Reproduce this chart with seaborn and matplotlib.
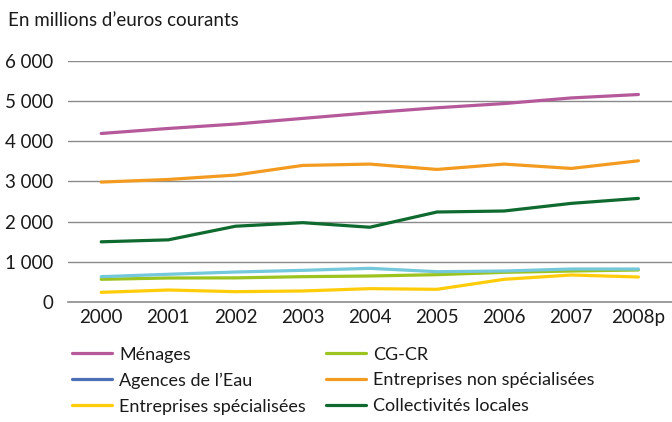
import numpy as np
import pandas as pd
import seaborn as sns
import matplotlib.pyplot as plt
from matplotlib.lines import Line2D
from matplotlib.ticker import FuncFormatter

years = ["2000", "2001", "2002", "2003", "2004", "2005", "2006", "2007", "2008p"]

menages = [4195, 4320, 4430, 4570, 4710, 4835, 4940, 5080, 5165]
cg_cr = [565, 597, 600, 630, 647, 680, 738, 771, 796]
agences = [630, 690, 746, 788, 838, 754, 771, 821, 821]
entr_non_spec = [2985, 3050, 3160, 3400, 3433, 3300, 3433, 3325, 3515]
entr_spec = [240, 298, 257, 274, 332, 315, 564, 672, 622]
collectivites = [1498, 1547, 1886, 1975, 1861, 2240, 2265, 2455, 2579]

series = {
    "Ménages": menages,
    "CG-CR": cg_cr,
    "Agences de l\u2019Eau": agences,
    "Entreprises non spécialisées": entr_non_spec,
    "Entreprises spécialisées": entr_spec,
    "Collectivités locales": collectivites,
}

# line colours (Agences drawn light blue, legend swatch is darker blue)
line_colors = {
    "Ménages": "#B5599B",
    "CG-CR": "#9DC31E",
    "Agences de l\u2019Eau": "#74C8DB",
    "Entreprises non spécialisées": "#F39A20",
    "Entreprises spécialisées": "#FFCC0A",
    "Collectivités locales": "#0F6A2F",
}
legend_colors = dict(line_colors)
legend_colors["Agences de l\u2019Eau"] = "#4B70B5"

legend_order = ["Ménages", "Agences de l\u2019Eau", "Entreprises spécialisées",
                "CG-CR", "Entreprises non spécialisées", "Collectivités locales"]

rows = []
for name, vals in series.items():
    for i, v in enumerate(vals):
        rows.append({"serie": name, "pos": i, "valeur": v})
df = pd.DataFrame(rows)

sns.set_style("white")
plt.rcParams["font.family"] = ["Lato", "DejaVu Sans"]

fig = plt.figure(figsize=(6.72, 4.22), dpi=100)
ax = fig.add_axes([0.1006, 0.2844, 0.8994, 0.5711])

ax.set_axisbelow(True)
for y in range(1000, 7000, 1000):
    ax.axhline(y, color="#8a8a8a", lw=1.0, zorder=0)

sns.lineplot(data=df, x="pos", y="valeur", hue="serie", palette=line_colors,
             hue_order=list(series.keys()), linewidth=2.3, legend=False, ax=ax)

ax.set_xlim(-0.5, 8.5)
ax.set_ylim(0, 6000)
ax.set_xticks(range(len(years)))
ax.set_xticklabels(years)
ax.set_xticks(np.arange(-0.5, 8.5, 1.0), minor=True)
ax.set_yticks(range(0, 7000, 1000))
ax.yaxis.set_major_formatter(FuncFormatter(lambda v, p: f"{int(v):,}".replace(",", " ")))
ax.set_xlabel("")
ax.set_ylabel("")

for s in ["top", "right", "left"]:
    ax.spines[s].set_visible(False)
ax.spines["bottom"].set_color("#8a8a8a")
ax.spines["bottom"].set_linewidth(1.2)

ax.tick_params(axis="x", which="major", length=0, pad=5, labelsize=13.5, colors="#1a1a1a")
ax.tick_params(axis="x", which="minor", length=5, width=1, color="#8a8a8a", direction="out")
ax.tick_params(axis="y", length=0, pad=10, labelsize=13.5, colors="#1a1a1a")

fig.text(0.012, 0.952, "En millions d\u2019euros courants", fontsize=13.5,
         color="#1a1a1a", va="center", ha="left")

handles = [Line2D([0], [0], color=legend_colors[n], lw=2.3) for n in legend_order]
fig.legend(handles, legend_order, ncol=2, loc="upper left",
           bbox_to_anchor=(0.097, 0.196), frameon=False, fontsize=13,
           handlelength=2.2, handletextpad=0.4, columnspacing=1.1,
           labelspacing=0.55, borderaxespad=0, labelcolor="#1a1a1a")

fig.savefig("out.png", dpi=100)
